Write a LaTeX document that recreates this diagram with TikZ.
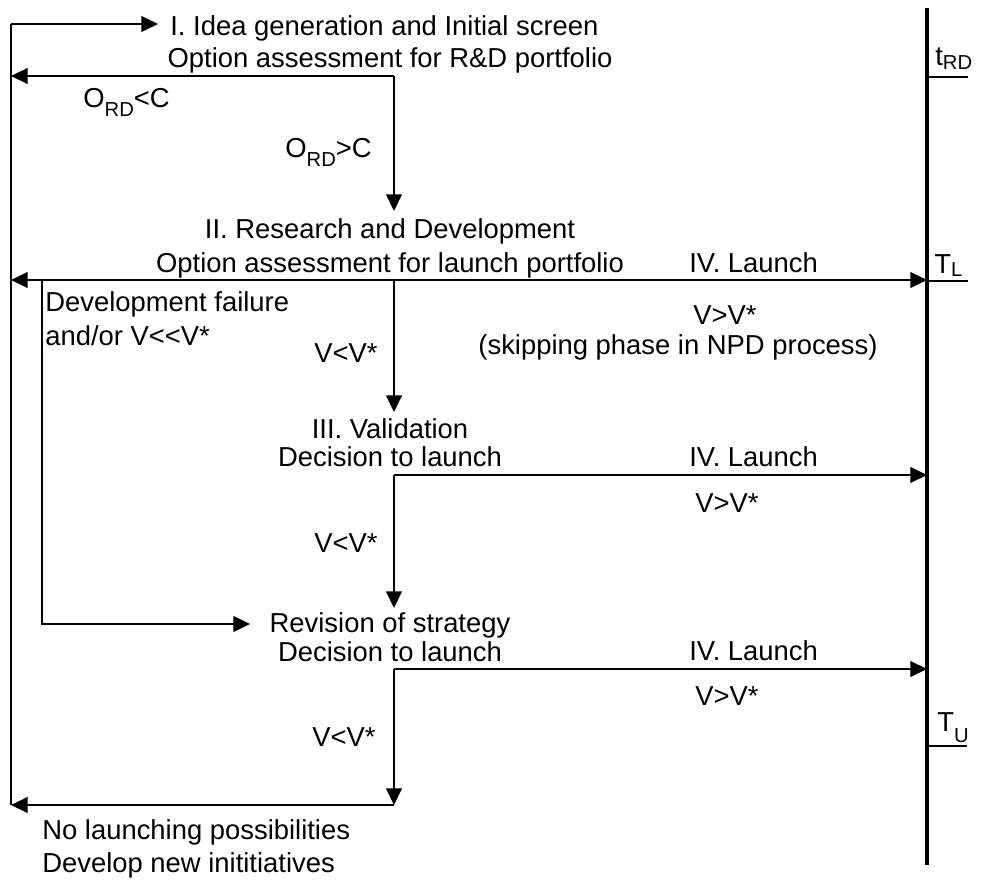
\documentclass[tikz,border=0pt]{standalone}
\usepackage{fontspec}
\setmainfont{Liberation Sans}
\usetikzlibrary{arrows.meta}

% lowered small index, as in O_RD or T_L
\newcommand{\lowsub}[2][0.3em]{\raisebox{-#1}{\fontsize{11.5}{11.5}\selectfont #2}}

\begin{document}
\begin{tikzpicture}[
    x=0.02cm, y=-0.02cm,
    % text lines, placed by their baseline
    txt/.style={inner sep=0pt, anchor=base, font=\fontsize{15.6}{18}\selectfont},
    txtl/.style={txt, anchor=base west},
    % connectors
    rail/.style={line width=0.9pt},
    flow/.style={rail, -{Triangle[length=9.5pt,width=9pt]}},
    timeline/.style={line width=2pt}
]
\useasboundingbox (0,0) rectangle (981,884);

% phases (centred on the stem)
\node[txtl] (idea1) at (170,36) {I. Idea generation and Initial screen};
\node[txt] (idea2) at (390,68) {Option assessment for R\&D portfolio};
\node[txt] (rnd1) at (390,239) {II. Research and Development};
\node[txt] (rnd2) at (390,273) {Option assessment for launch portfolio};
\node[txt] (val1) at (390,439) {III. Validation};
\node[txt] (val2) at (390,467) {Decision to launch};
\node[txt] (rev1) at (390,633) {Revision of strategy};
\node[txt] (rev2) at (390,662) {Decision to launch};

% conditions
\node[txtl] (orlow) at (83,108) {O\lowsub{RD}<C};
\node[txtl] (orhigh) at (285,158) {O\lowsub{RD}>C};
\node[txtl] (fail1) at (45,312) {Development failure};
\node[txtl] (fail2) at (45,346) {and/or V<{}<V*};
\node[txt] (vlow1) at (346,363) {V<V*};
\node[txt] (vlow2) at (346,553) {V<V*};
\node[txt] (vlow3) at (344,747) {V<V*};
\node[txtl] (launch1) at (689,273) {IV. Launch};
\node[txtl] (launch2) at (689,467) {IV. Launch};
\node[txtl] (launch3) at (689,661) {IV. Launch};
\node[txt] (vhigh1) at (725,325) {V>V*};
\node[txt] (skip) at (678,355) {(skipping phase in NPD process)};
\node[txt] (vhigh2) at (727,513) {V>V*};
\node[txt] (vhigh3) at (727,706) {V>V*};
\node[txtl] (nolaunch1) at (42,840) {No launching possibilities};
\node[txtl] (nolaunch2) at (42,873) {Develop new inititiatives};

% time axis labels
\node[txtl] (trdlab) at (935,66) {t\lowsub[0.12em]{RD}};
\node[txtl] (tllab) at (934,274) {T\lowsub[0.08em]{L}};
\node[txtl] (tulab) at (937,732) {T\lowsub[0.4em]{U}};

% corner points
\coordinate (top) at (11,24);
\coordinate (bot) at (11,805);
\coordinate (ideain) at (158,24);
\coordinate (rdR) at (394,76);
\coordinate (rdL) at (11,76);
\coordinate (rndin) at (394,211);
\coordinate (s1) at (394,280);
\coordinate (s1L) at (11,280);
\coordinate (s1R) at (927,280);
\coordinate (valin) at (394,412);
\coordinate (s2) at (394,475);
\coordinate (s2R) at (927,475);
\coordinate (revin) at (394,608);
\coordinate (s3) at (394,669);
\coordinate (s3R) at (927,669);
\coordinate (s4) at (394,805);
\coordinate (fail) at (42,280);
\coordinate (failB) at (42,624);
\coordinate (revL) at (250,624);
\coordinate (tTop) at (927,8);
\coordinate (tBot) at (927,865);
\coordinate (tRD) at (927,77);
\coordinate (tRDe) at (968,77);
\coordinate (tL) at (927,281);
\coordinate (tLe) at (968,281);
\coordinate (tU) at (927,746);
\coordinate (tUe) at (967,746);

% flow
\draw[rail] (bot) -- (top);
\draw[flow] (top) -- (ideain);
\draw[flow] (rdR) -- (rdL);
\draw[flow] (rdR) -- (rndin);
\draw[flow] (s1) -- (s1L);
\draw[flow] (s1) -- (s1R);
\draw[flow] (s1) -- (valin);
\draw[flow] (fail) -- (failB) -- (revL);
\draw[flow] (s2) -- (s2R);
\draw[flow] (s2) -- (revin);
\draw[flow] (s3) -- (s3R);
\draw[flow] (s3) -- (s4);
\draw[flow] (s4) -- (bot);

% time axis
\draw[timeline] (tTop) -- (tBot);
\draw[line width=1.4pt] (tRD) -- (tRDe);
\draw[line width=1.4pt] (tL) -- (tLe);
\draw[rail] (tU) -- (tUe);

\end{tikzpicture}
\end{document}
